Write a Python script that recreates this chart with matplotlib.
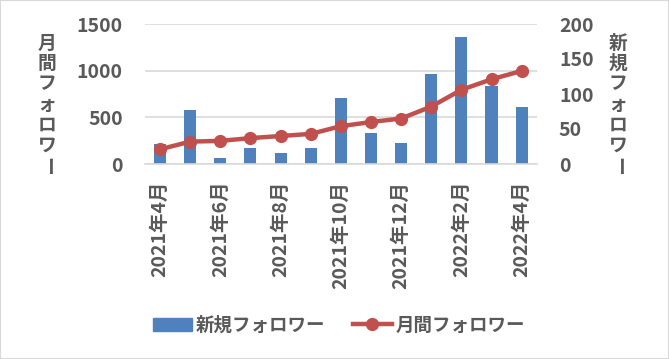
import matplotlib
matplotlib.use("Agg")
import matplotlib.pyplot as plt
from matplotlib.patches import Rectangle
from matplotlib.lines import Line2D

plt.rcParams['font.family'] = ['Noto Sans CJK JP', 'DejaVu Sans']

months = ["2021年4月", "2021年5月", "2021年6月", "2021年7月", "2021年8月", "2021年9月",
          "2021年10月", "2021年11月", "2021年12月", "2022年1月", "2022年2月", "2022年3月", "2022年4月"]
new_followers = [215, 580, 65, 170, 120, 172, 705, 335, 225, 965, 1360, 835, 612]
monthly_followers = [21, 32, 33, 37, 40, 43, 54, 60, 65, 82, 106, 121, 133]

left_label = "月間フォロワー"
right_label = "新規フォロワー"

TXT = "#595959"
BLUE = "#4F81BD"
RED = "#C0504D"
GRID = "#D9D9D9"

fig = plt.figure(figsize=(6.69, 3.59), dpi=100)
fig.patches.append(Rectangle((0, 0), 1, 1, transform=fig.transFigure, fill=False,
                             edgecolor="#D9D9D9", linewidth=1.5))
ax = fig.add_axes([145/669, 1-164/359, (536.7-145)/669, 140/359])
x = list(range(len(months)))
ax.bar(x, new_followers, width=0.4, color=BLUE, zorder=2)
ax.set_xlim(-0.5, len(months)-0.5)
ax.set_ylim(0, 1500)
ax.set_yticks([0, 500, 1000, 1500])
ax.grid(axis='y', color=GRID, linewidth=1.2, zorder=0)
ax.set_axisbelow(True)
for s in ['top', 'right', 'left']:
    ax.spines[s].set_visible(False)
ax.spines['bottom'].set_color(GRID)
ax.spines['bottom'].set_linewidth(1.2)
ax.tick_params(axis='y', length=0, pad=16, labelsize=14, labelcolor=TXT)
ax.set_xticks(x[::2])
ax.set_xticklabels(months[::2], rotation=90, va='top', ha='center')
ax.tick_params(axis='x', length=0, pad=12, labelsize=14, labelcolor=TXT)
for lab in ax.get_xticklabels() + ax.get_yticklabels():
    lab.set_fontweight('bold')

ax2 = ax.twinx()
ax2.plot(x, monthly_followers, color=RED, linewidth=3.2, marker='o', markersize=8.5, zorder=3)
ax2.set_ylim(0, 200)
ax2.set_yticks([0, 50, 100, 150, 200])
for s in ['top', 'right', 'left', 'bottom']:
    ax2.spines[s].set_visible(False)
ax2.tick_params(axis='y', length=0, pad=16, labelsize=14, labelcolor=TXT)
for lab in ax2.get_yticklabels():
    lab.set_fontweight('bold')
    lab.set_horizontalalignment('left')

def vlabel(s, xc, yc0, pitch=20.5):
    for i, c in enumerate(s):
        rot = -90 if c == 'ー' else 0
        fig.text(xc/669, 1-(yc0 + i*pitch)/359, c, ha='center', va='center',
                 rotation=rot, fontsize=13.5, fontweight='bold', color=TXT)

vlabel(left_label, 47, 43)
vlabel(right_label, 618, 43)

handles = [Rectangle((0, 0), 1, 1, color=BLUE),
           Line2D([0], [0], color=RED, linewidth=3.2, marker='o', markersize=8.5)]
leg = fig.legend(handles, ["新規フォロワー", "月間フォロワー"], loc='center',
                 bbox_to_anchor=(339/669, 1-325/359), ncol=2, frameon=False,
                 prop={'size': 13.3, 'weight': 'bold'}, handlelength=2.1,
                 handletextpad=0.2, columnspacing=1.5)
for t in leg.get_texts():
    t.set_color(TXT)

fig.savefig("out.png", dpi=100)
